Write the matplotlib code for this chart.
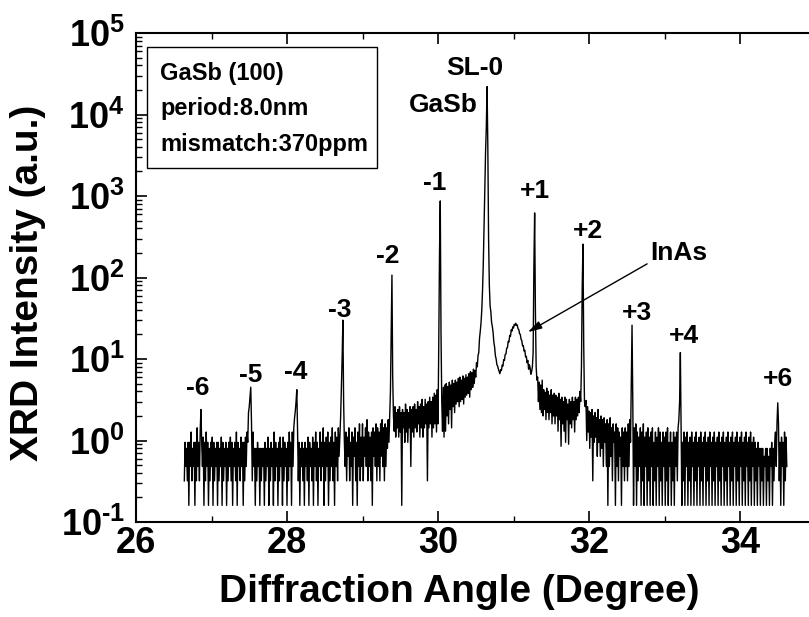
#!/usr/bin/env python3
"""XRD scan of an InAs/GaSb superlattice on GaSb (100), log intensity vs angle."""

import numpy as np
import matplotlib
matplotlib.use("Agg")
import matplotlib.pyplot as plt
from matplotlib.patches import Rectangle
from matplotlib.ticker import FixedLocator, MultipleLocator, LogLocator, NullFormatter

plt.rcParams.update({
    "font.family": ["Liberation Sans", "DejaVu Sans"],
    "font.weight": "bold",
    "mathtext.fontset": "custom",
    "mathtext.rm": "Liberation Sans:bold",
    "mathtext.bf": "Liberation Sans:bold",
    "mathtext.it": "Liberation Sans:bold",
    "mathtext.default": "rm",
    "axes.linewidth": 1.5,
})

# scan grid (degree)
angle_start = 26.64
angle_step = 0.01

# intensities, region by region (a.u.), ten per row
floor_low = [   # 26.64 - 28.69, with -6, -5, -4
    0.32, 0.95, 0.48, 0.8, 0.32, 0.95, 0.16, 0.95, 0.48, 1.27,
    0.32, 0.8, 0.48, 0.95, 0.16, 0.95, 0.32, 1.43, 0.48, 0.95,
    0.32, 1.27, 2.4, 0.95, 0.48, 1.1, 0.16, 0.95, 0.32, 1.27,
    0.48, 0.95, 0.16, 0.8, 0.32, 0.95, 0.48, 1.1, 0.16, 0.95,
    0.32, 0.8, 0.48, 0.95, 0.16, 0.95, 0.32, 0.8, 0.48, 1.1,
    0.16, 0.95, 0.32, 0.8, 0.48, 0.95, 0.16, 0.8, 0.32, 0.95,
    0.48, 1.1, 0.32, 0.95, 0.16, 0.8, 0.48, 0.95, 0.32, 1.27,
    0.16, 0.95, 0.48, 0.8, 0.32, 1.1, 0.48, 0.95, 0.16, 0.95,
    0.32, 1.1, 0.48, 1.27, 0.95, 2.2, 2.6, 3.4, 4.5, 1.6,
    0.32, 1.27, 0.48, 0.8, 0.16, 0.8, 0.32, 0.95, 0.48, 0.8,
    0.16, 0.8, 0.32, 0.8, 0.48, 0.8, 0.16, 0.95, 0.32, 0.8,
    0.48, 1.1, 0.16, 0.8, 0.32, 0.95, 0.48, 0.8, 0.16, 1.27,
    0.32, 0.95, 0.48, 0.8, 0.16, 0.95, 0.32, 1.1, 0.48, 0.8,
    0.16, 1.1, 0.32, 0.95, 0.48, 0.8, 0.16, 0.95, 0.32, 1.27,
    0.48, 0.95, 0.16, 1.27, 0.48, 1.43, 1.9, 2.3, 3.0, 4.2,
    1.3, 0.32, 0.95, 0.16, 0.8, 0.48, 0.95, 0.32, 0.8, 0.16,
    0.95, 0.48, 0.8, 0.32, 1.1, 0.16, 0.95, 0.48, 0.8, 0.32,
    1.1, 0.16, 0.95, 0.48, 1.27, 0.32, 0.95, 0.16, 0.8, 0.48,
    1.27, 0.32, 0.95, 0.48, 1.43, 0.16, 0.95, 0.32, 1.1, 0.48,
    1.27, 0.16, 0.95, 0.32, 1.1, 0.48, 1.43, 0.32, 0.95, 0.16,
    1.27, 0.48, 1.1, 0.32, 1.43, 0.64,
]
rise_left = [   # 28.70 - 29.99, with -3, -2
    1.1, 1.9, 4.5, 10.0, 30.0, 3.0, 0.95, 0.48, 1.27, 0.32,
    1.1, 0.64, 1.43, 0.32, 0.95, 0.48, 1.27, 0.16, 1.1, 0.64,
    1.43, 0.32, 0.95, 0.16, 1.27, 0.48, 1.6, 0.32, 1.1, 0.48,
    1.6, 0.32, 1.1, 0.64, 1.43, 0.48, 1.8, 0.32, 1.27, 0.48,
    1.1, 0.32, 1.27, 0.16, 1.43, 0.64, 1.27, 0.48, 1.6, 0.32,
    1.43, 0.48, 1.27, 0.32, 1.6, 0.64, 1.8, 0.48, 1.43, 0.32,
    1.6, 0.48, 1.43, 0.8, 1.8, 0.95, 2.0, 4.0, 22.0, 107.0,
    6.0, 2.0, 1.3, 2.6, 1.1, 2.2, 1.43, 2.4, 1.1, 2.6,
    1.27, 2.2, 0.16, 2.4, 1.43, 2.2, 0.95, 2.8, 1.27, 2.4,
    0.95, 2.2, 1.43, 2.6, 0.48, 2.4, 1.27, 2.6, 1.1, 2.8,
    1.43, 2.4, 1.27, 3.0, 1.6, 2.6, 1.1, 2.8, 1.43, 3.2,
    1.1, 2.6, 1.43, 3.2, 1.6, 2.8, 0.32, 3.0, 1.43, 3.4,
    1.6, 3.0, 1.1, 3.4, 1.43, 3.8, 1.6, 3.6, 1.27, 4.2,
]
central = [     # 30.00 - 31.35, with -1, SL-0/GaSb, InAs hump, +1
    1.6, 15.0, 200.0, 870.0, 20.0, 3.0, 1.3, 4.5, 1.1, 4.8,
    1.3, 5.0, 2.0, 4.6, 1.6, 5.2, 2.4, 4.8, 1.43, 5.5,
    2.6, 5.0, 2.2, 5.5, 2.8, 5.2, 3.0, 5.8, 2.6, 6.0,
    3.0, 5.5, 3.2, 6.2, 2.8, 5.8, 3.4, 6.4, 3.6, 6.0,
    3.8, 6.6, 3.4, 7.0, 4.2, 6.8, 4.5, 7.5, 5.0, 7.2,
    6.0, 9.0, 8.0, 11.0, 12.0, 18.0, 22.0, 28.0, 40.0, 70.0,
    150.0, 400.0, 1200.0, 3500.0, 7000.0, 22000.0, 4000.0, 300.0, 80.0, 45.0,
    38.0, 28.0, 25.0, 21.0, 16.0, 14.0, 11.0, 10.0, 8.5, 8.2,
    7.5, 7.0, 6.6, 7.4, 7.2, 8.4, 8.2, 9.8, 9.6, 11.4,
    11.5, 13.6, 13.8, 16.5, 16.2, 19.5, 19.0, 22.8, 22.0, 24.8,
    24.0, 26.6, 25.8, 27.5, 25.8, 26.2, 23.5, 23.0, 20.5, 20.0,
    17.5, 16.8, 14.5, 14.6, 12.5, 12.8, 10.6, 10.8, 9.0, 9.6,
    7.5, 8.5, 7.8, 6.5, 7.0, 8.0, 12.0, 135.0, 620.0, 40.0,
    8.0, 5.5, 6.0, 3.0, 5.2, 2.4,
]
fall_right = [  # 31.36 - 32.49, with +2
    4.8, 2.2, 5.5, 2.0, 4.2, 2.4, 3.9, 1.8, 4.4, 2.2,
    4.0, 1.8, 3.6, 2.2, 4.2, 1.6, 3.6, 2.0, 3.8, 1.6,
    3.6, 2.0, 3.4, 1.3, 3.8, 1.8, 3.2, 0.85, 3.4, 1.6,
    3.0, 1.3, 3.4, 0.95, 3.2, 1.8, 2.8, 0.9, 3.2, 1.6,
    3.0, 1.43, 3.4, 1.8, 3.0, 1.27, 3.4, 1.8, 3.2, 2.0,
    3.4, 2.2, 4.0, 3.0, 8.0, 76.0, 257.0, 15.0, 3.0, 2.6,
    3.1, 1.0, 2.6, 1.27, 2.3, 0.8, 2.2, 1.1, 2.4, 0.32,
    2.0, 0.95, 2.2, 1.1, 1.9, 0.64, 2.4, 0.95, 1.8, 0.64,
    2.0, 0.8, 1.8, 0.48, 1.9, 0.95, 1.6, 0.48, 1.8, 0.16,
    1.6, 0.48, 1.9, 0.64, 1.43, 0.32, 1.6, 0.95, 1.27, 0.16,
    1.6, 0.48, 1.43, 0.32, 1.27, 0.64, 1.1, 0.16, 1.43, 0.48,
    1.27, 0.32, 1.43, 0.48,
]
floor_high = [  # 32.50 - 34.62, with +3, +4, +6
    1.27, 0.32, 1.6, 0.48, 1.8, 0.95, 5.0, 26.0, 3.0, 0.16,
    1.43, 0.48, 1.6, 0.16, 1.27, 0.32, 1.1, 0.48, 1.43, 0.16,
    1.27, 0.32, 1.6, 0.16, 1.1, 0.48, 1.27, 0.16, 1.43, 0.32,
    1.1, 0.16, 1.27, 0.48, 1.43, 0.16, 0.95, 0.32, 1.27, 0.16,
    1.1, 0.48, 1.43, 0.16, 1.27, 0.32, 0.95, 0.16, 1.27, 0.48,
    1.1, 0.16, 1.27, 0.32, 1.43, 0.16, 0.95, 0.48, 1.27, 0.16,
    0.95, 0.32, 1.27, 0.16, 1.1, 0.48, 1.27, 0.32, 1.43, 1.8,
    3.0, 12.0, 1.2, 0.16, 0.95, 0.32, 1.27, 0.16, 1.1, 0.48,
    1.27, 0.16, 0.95, 0.32, 1.1, 0.16, 1.27, 0.48, 0.95, 0.16,
    1.1, 0.32, 1.27, 0.16, 0.95, 0.48, 1.1, 0.16, 1.27, 0.32,
    0.95, 0.16, 1.1, 0.48, 1.27, 0.16, 0.95, 0.32, 1.1, 0.16,
    1.27, 0.48, 0.95, 0.16, 1.1, 0.32, 1.27, 0.16, 0.95, 0.48,
    1.1, 0.16, 1.27, 0.32, 0.95, 0.16, 1.1, 0.48, 1.27, 0.16,
    0.95, 0.32, 1.1, 0.16, 1.27, 0.48, 0.95, 0.16, 1.1, 0.32,
    1.27, 0.16, 0.95, 0.48, 1.1, 0.16, 1.27, 0.32, 0.95, 0.16,
    1.1, 0.48, 1.27, 0.16, 0.95, 0.32, 1.1, 0.16, 1.27, 0.48,
    0.95, 0.16, 1.1, 0.32, 1.27, 0.16, 0.95, 0.48, 1.1, 0.16,
    0.95, 0.32, 0.8, 0.16, 0.95, 0.48, 0.8, 0.16, 0.8, 0.32,
    0.8, 0.16, 0.64, 0.48, 0.8, 0.16, 0.8, 0.32, 0.64, 0.16,
    0.8, 0.48, 0.95, 0.16, 0.8, 0.32, 0.95, 1.27, 0.48, 1.6,
    2.9, 1.6, 0.32, 0.95, 0.16, 1.1, 0.48, 0.95, 0.16, 1.27,
    0.32, 1.1, 0.48,
]

# satellite labels: text, angle of centre, intensity at baseline
peak_texts = ["-6", "-5", "-4", "-3", "-2", "-1", "SL-0", "GaSb",
              "+1", "+2", "+3", "+4", "+6"]
peak_text_angles = [26.82, 27.52, 28.11, 28.70, 29.33, 29.96, 30.49, 30.07,
                    31.29, 31.99, 32.64, 33.26, 34.50]
peak_text_levels = [3.6, 5.2, 5.7, 32.8, 151, 1185, 30500, 10700,
                    944, 305, 30.1, 15.7, 4.7]

inas_text = (33.19, 164)
inas_tail = (32.77, 147)
inas_tip = (31.19, 21.4)

sample_lines = ["GaSb (100)", "period:8.0nm", "mismatch:370ppm"]

xticks = [26, 28, 30, 32, 34]
yticks = [1e-1, 1e0, 1e1, 1e2, 1e3, 1e4, 1e5]
ytick_labels = [r"$10^{\text{-1}}$", r"$10^{0}$", r"$10^{1}$", r"$10^{2}$",
                r"$10^{3}$", r"$10^{4}$", r"$10^{5}$"]


def main() -> None:
    intensity = np.array(floor_low + rise_left + central + fall_right + floor_high)
    angle = angle_start + angle_step * np.arange(len(intensity))

    fig = plt.figure(figsize=(8.09, 6.17), dpi=100)
    ax = fig.add_axes([136 / 809, 1 - 522 / 617, 679.5 / 809, 489 / 617])

    ax.plot(angle, intensity, color="black", lw=1.0)

    ax.set_yscale("log")
    ax.set_xlim(26, 35)
    ax.set_ylim(1e-1, 1e5)

    ax.xaxis.set_major_locator(FixedLocator(xticks))
    ax.xaxis.set_minor_locator(MultipleLocator(1))
    ax.yaxis.set_major_locator(FixedLocator(yticks))
    ax.set_yticklabels(ytick_labels)
    ax.yaxis.set_minor_locator(LogLocator(base=10, subs=np.arange(2, 10), numticks=20))
    ax.yaxis.set_minor_formatter(NullFormatter())

    ax.tick_params(axis="x", which="both", direction="in", top=True, labelsize=26, pad=3)
    ax.tick_params(axis="y", which="both", direction="in", right=False, labelsize=26, pad=8)
    ax.tick_params(which="major", length=8, width=1.2)
    ax.tick_params(which="minor", length=4, width=1.0)

    for text, x, y in zip(peak_texts, peak_text_angles, peak_text_levels):
        ax.text(x, y, text, fontsize=19, ha="center", va="baseline")

    ax.text(*inas_text, "InAs", fontsize=19, ha="center", va="baseline")
    ax.annotate("", xy=inas_tip, xytext=inas_tail,
                arrowprops=dict(arrowstyle="-|>,head_length=0.7,head_width=0.2",
                                color="black", lw=1.0, shrinkA=0, shrinkB=0,
                                mutation_scale=12))

    ax.add_patch(Rectangle((0.0162, 0.724), 0.3385, 0.2474, transform=ax.transAxes,
                           fill=False, lw=1.0, ec="black"))
    for text, y in zip(sample_lines, [0.904, 0.832, 0.759]):
        ax.text(0.0353, y, text, transform=ax.transAxes, fontsize=17, va="baseline")

    fig.text(459 / 809, 0.0413, "Diffraction Angle (Degree)", fontsize=28,
             ha="center", va="center")
    fig.text(28.5 / 809, 1 - 283 / 617, "XRD Intensity (a.u.)", fontsize=28,
             rotation=90, ha="center", va="center")

    fig.savefig("out.png", dpi=100)
    plt.close(fig)


if __name__ == "__main__":
    main()
